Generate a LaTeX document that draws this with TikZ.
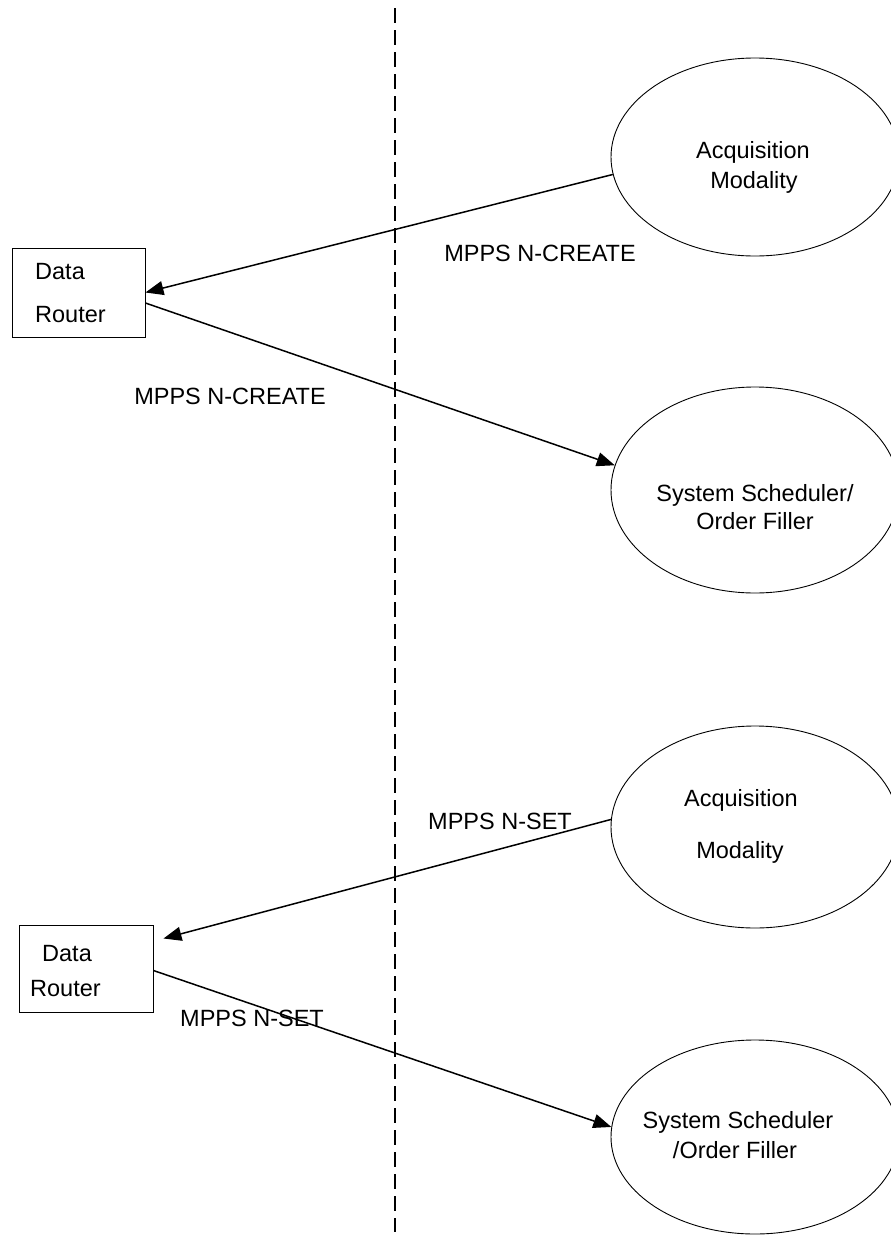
\documentclass[tikz,border=0pt]{standalone}
\usepackage{fontspec}
\setmainfont{Liberation Sans}
\usetikzlibrary{arrows.meta,shapes.geometric}
\tikzset{
  every node/.style={font=\fontsize{23.5}{28}\selectfont},
  txt/.style={inner sep=0pt, text height=17pt, text depth=5pt},
  oval/.style={draw, ellipse, line width=0.9pt, minimum width=288pt, minimum height=200pt, inner sep=0pt},
  boxnode/.style={draw, line width=0.9pt, inner sep=0pt, minimum width=133pt, minimum height=89pt},
  conn/.style={line width=1.5pt, -{Triangle[length=18pt,width=14pt]}},
  divider/.style={line width=1.6pt, dash pattern=on 15pt off 7pt}
}
\begin{document}
\begin{tikzpicture}[x=1pt,y=-1pt]
\useasboundingbox (0,0) rectangle (891,1237);
% divider
\coordinate (dtop) at (395,8);
\coordinate (dbot) at (395,1232);
\draw[divider] (dtop) -- (dbot);
% boxes
\node[boxnode] (b1) at (78.5,292.5) {};
\node[boxnode, minimum width=134pt, minimum height=87pt] (b2) at (86,968.5) {};
\node[txt, anchor=west] (b1a) at (35,273) {Data};
\node[txt, anchor=west] (b1b) at (35,316) {Router};
\node[txt, anchor=west] (b2a) at (42,955) {Data};
\node[txt, anchor=west] (b2b) at (30,990) {Router};
% ellipses
\node[oval, minimum height=198pt] (e1) at (755,157) {};
\node[oval, minimum height=206pt] (e2) at (755,490) {};
\node[oval, minimum height=202pt] (e3) at (755,827) {};
\node[oval, minimum height=194pt] (e4) at (755,1137) {};
\node[txt] (e1a) at (753,152) {Acquisition};
\node[txt] (e1b) at (754,182) {Modality};
\node[txt] (e2a) at (755,495) {System Scheduler/};
\node[txt] (e2b) at (755,523) {Order Filler};
\node[txt] (e3a) at (741,800) {Acquisition};
\node[txt] (e3b) at (740,852) {Modality};
\node[txt] (e4a) at (738,1122) {System Scheduler};
\node[txt] (e4b) at (735,1152) {/Order Filler};
% labels
\node[txt] (l1) at (540,255) {MPPS N-CREATE};
\node[txt] (l2) at (230,398) {MPPS N-CREATE};
\node[txt] (l3) at (500,823) {MPPS N-SET};
\node[txt] (l4) at (252,1020) {MPPS N-SET};
% connectors
\draw[conn] (e1.187.6) -- (b1.east);
\draw[conn] ([yshift=-10.5pt]b1.east) -- (e2.170.8);
\draw[conn] (e3.177.6) -- ([xshift=10pt,yshift=30pt]b2.east);
\draw[conn] ([yshift=-2pt]b2.east) -- (e4.176.4);
\end{tikzpicture}
\end{document}
